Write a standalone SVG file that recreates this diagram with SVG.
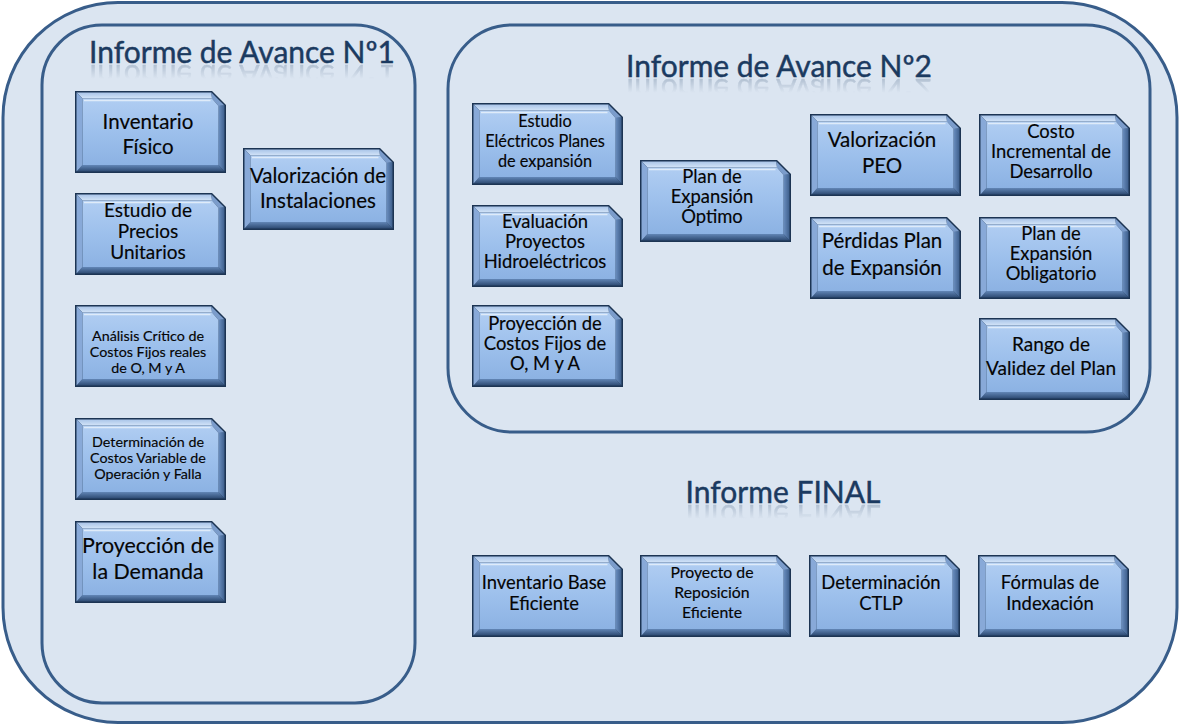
<svg xmlns="http://www.w3.org/2000/svg" xmlns:xlink="http://www.w3.org/1999/xlink" width="1180" height="725" viewBox="0 0 1180 725">
<style>
.cont{fill:#dbe5f1;stroke:#385d8a;stroke-width:3}
.h{font-family:Lato,"Open Sans",sans-serif;font-size:30px;fill:#1b3a60;stroke:#1b3a60;stroke-width:0.45;text-anchor:middle}
.t{font-family:Lato,"Open Sans",sans-serif;fill:#050505;stroke:#050505;stroke-width:0.15;text-anchor:middle}
.f20{font-size:20.5px}.f19{font-size:19px}.f18{font-size:18.4px}.f16{font-size:16.3px}.f15{font-size:14.3px}.f21{font-size:21.4px}.f17{font-size:15.8px}
</style>
<defs>
<linearGradient id="gFace" x1="0" y1="0" x2="0" y2="1"><stop offset="0" stop-color="#b0cdf2"/><stop offset="0.5" stop-color="#9dc0ec"/><stop offset="1" stop-color="#8cb2e3"/></linearGradient>
<linearGradient id="gTop" x1="0" y1="0" x2="0" y2="1"><stop offset="0" stop-color="#a9c4e8"/><stop offset="1" stop-color="#d3e4f8"/></linearGradient>
<linearGradient id="gBot" x1="0" y1="0" x2="0" y2="1"><stop offset="0" stop-color="#6286b6"/><stop offset="1" stop-color="#2d4a72"/></linearGradient>
<linearGradient id="gR" x1="0" y1="0" x2="1" y2="0"><stop offset="0" stop-color="#6b8fc0"/><stop offset="1" stop-color="#3e5f8c"/></linearGradient>
<linearGradient id="rg" x1="0" y1="0" x2="0" y2="1"><stop offset="0.45" stop-color="#000"/><stop offset="1" stop-color="#fff"/></linearGradient>
<mask id="rm" maskContentUnits="objectBoundingBox"><rect width="1" height="1" fill="url(#rg)"/></mask>
<g id="box">
<path d="M0,0H137L151,14V82H0Z" fill="#1c3453"/>
<path d="M1.5,1.5H136.4L137,7.5H7.5Z" fill="url(#gTop)"/>
<path d="M136.4,1.5L149.5,14.6L143.5,15L137,7.5Z" fill="#7b9ccb"/>
<path d="M149.5,14.6V80.5L143.5,74V15Z" fill="url(#gR)"/>
<path d="M149.5,80.5H1.5L7.5,74H143.5Z" fill="url(#gBot)"/>
<path d="M1.5,80.5V1.5L7.5,7.5V74Z" fill="#88a9d8"/>
<path d="M7.5,7.5H137L143.5,15V74H7.5Z" fill="url(#gFace)"/>
<path d="M9,9.5H135.5" stroke="#e8f1fb" stroke-width="1.5" opacity="0.85"/>
</g>
</defs>
<rect width="1180" height="725" fill="#ffffff"/>
<g id="informe-final-container">
<rect class="cont" x="3" y="2.5" width="1174" height="720" rx="115" ry="115"/>
<text id="title-final" class="h" x="783" y="503">Informe FINAL</text>
<use xlink:href="#title-final" transform="translate(0,1008) scale(1,-1)" mask="url(#rm)" opacity="0.3"/>
</g>
<g id="avance1-container">
<rect class="cont" x="42" y="25" width="373" height="678" rx="60" ry="60"/>
<text id="title-av1" class="h" x="242" y="63">Informe de Avance Nº1</text>
<use xlink:href="#title-av1" transform="translate(0,128) scale(1,-1)" mask="url(#rm)" opacity="0.3"/>
</g>
<g id="avance2-container">
<rect class="cont" x="448" y="25" width="702" height="407" rx="64" ry="64"/>
<text id="title-av2" class="h" x="779" y="77">Informe de Avance Nº2</text>
<use xlink:href="#title-av2" transform="translate(0,156) scale(1,-1)" mask="url(#rm)" opacity="0.3"/>
</g>
<g id="connectors"></g>
<g id="n-inventario-fisico"><use xlink:href="#box" x="75" y="91"/><text class="t f20"><tspan x="148" y="129">Inventario</tspan><tspan x="148" y="154">Físico</tspan></text></g>
<g id="n-precios-unitarios"><use xlink:href="#box" x="75" y="193"/><text class="t f19"><tspan x="148" y="217">Estudio de</tspan><tspan x="148" y="238">Precios</tspan><tspan x="148" y="259">Unitarios</tspan></text></g>
<g id="n-valorizacion-instalaciones"><use xlink:href="#box" x="243" y="148"/><text class="t f20"><tspan x="318" y="183">Valorización de</tspan><tspan x="318" y="208">Instalaciones</tspan></text></g>
<g id="n-analisis-critico"><use xlink:href="#box" x="75" y="305"/><text class="t f15"><tspan x="148" y="341">Análisis Crítico de</tspan><tspan x="148" y="357">Costos Fijos reales</tspan><tspan x="148" y="373">de O, M y A</tspan></text></g>
<g id="n-costos-variable"><use xlink:href="#box" x="75" y="418"/><text class="t f15"><tspan x="148" y="447">Determinación de</tspan><tspan x="148" y="463">Costos Variable de</tspan><tspan x="148" y="479">Operación y Falla</tspan></text></g>
<g id="n-proyeccion-demanda"><use xlink:href="#box" x="75" y="521"/><text class="t f21"><tspan x="148" y="553">Proyección de</tspan><tspan x="148" y="579">la Demanda</tspan></text></g>
<g id="n-estudio-electricos"><use xlink:href="#box" x="472" y="103"/><text class="t f16"><tspan x="545" y="127">Estudio</tspan><tspan x="545" y="147">Eléctricos Planes</tspan><tspan x="545" y="167">de expansión</tspan></text></g>
<g id="n-evaluacion-hidro"><use xlink:href="#box" x="472" y="205"/><text class="t f18"><tspan x="545" y="228">Evaluación</tspan><tspan x="545" y="248">Proyectos</tspan><tspan x="545" y="268">Hidroeléctricos</tspan></text></g>
<g id="n-proyeccion-costos"><use xlink:href="#box" x="472" y="305"/><text class="t f18"><tspan x="545" y="330">Proyección de</tspan><tspan x="545" y="350">Costos Fijos de</tspan><tspan x="545" y="370">O, M y A</tspan></text></g>
<g id="n-plan-optimo"><use xlink:href="#box" x="640" y="160"/><text class="t f18"><tspan x="712" y="183">Plan de</tspan><tspan x="712" y="203">Expansión</tspan><tspan x="712" y="223">Óptimo</tspan></text></g>
<g id="n-valorizacion-peo"><use xlink:href="#box" x="810" y="114"/><text class="t f20"><tspan x="882" y="147">Valorización</tspan><tspan x="882" y="173">PEO</tspan></text></g>
<g id="n-costo-incremental"><use xlink:href="#box" x="979" y="114"/><text class="t f18"><tspan x="1051" y="138">Costo</tspan><tspan x="1051" y="158">Incremental de</tspan><tspan x="1051" y="178">Desarrollo</tspan></text></g>
<g id="n-perdidas-plan"><use xlink:href="#box" x="810" y="217"/><text class="t f20"><tspan x="882" y="248">Pérdidas Plan</tspan><tspan x="882" y="275">de Expansión</tspan></text></g>
<g id="n-plan-obligatorio"><use xlink:href="#box" x="979" y="217"/><text class="t f18"><tspan x="1051" y="240">Plan de</tspan><tspan x="1051" y="260">Expansión</tspan><tspan x="1051" y="280">Obligatorio</tspan></text></g>
<g id="n-rango-validez"><use xlink:href="#box" x="979" y="318"/><text class="t f19"><tspan x="1051" y="351">Rango de</tspan><tspan x="1051" y="375">Validez del Plan</tspan></text></g>
<g id="n-inventario-base"><use xlink:href="#box" x="472" y="555"/><text class="t f18"><tspan x="544" y="589">Inventario Base</tspan><tspan x="544" y="610">Eficiente</tspan></text></g>
<g id="n-reposicion"><use xlink:href="#box" x="640" y="555"/><text class="t f17"><tspan x="712" y="578">Proyecto de</tspan><tspan x="712" y="598">Reposición</tspan><tspan x="712" y="618">Eficiente</tspan></text></g>
<g id="n-ctlp"><use xlink:href="#box" x="809" y="555"/><text class="t f18"><tspan x="881" y="589">Determinación</tspan><tspan x="881" y="610">CTLP</tspan></text></g>
<g id="n-formulas"><use xlink:href="#box" x="978" y="555"/><text class="t f18"><tspan x="1050" y="589">Fórmulas de</tspan><tspan x="1050" y="610">Indexación</tspan></text></g>
</svg>
